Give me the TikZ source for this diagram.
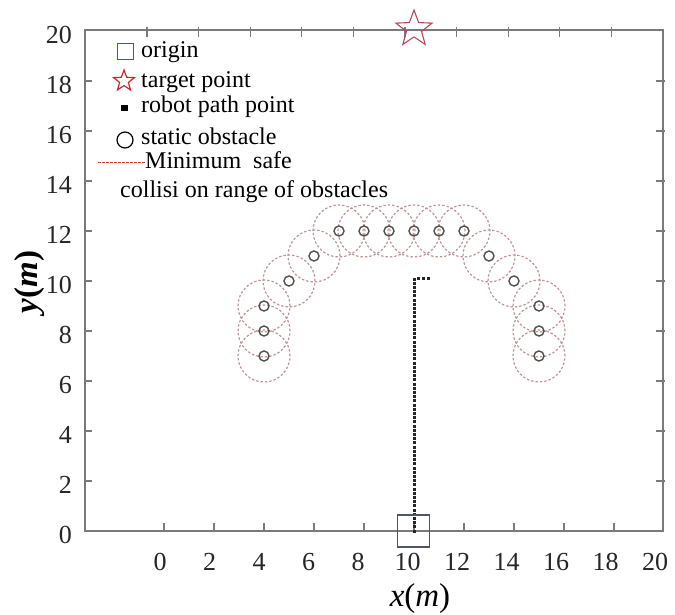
\documentclass[tikz,border=0pt]{standalone}
\usepackage{fontspec}
\setmainfont{Liberation Serif}
\usetikzlibrary{shapes.geometric}
\definecolor{framegray}{HTML}{7A7A7A}
\definecolor{safecol}{HTML}{BE9494}
\definecolor{obscol}{HTML}{505050}
\definecolor{starred}{HTML}{B8465A}
\definecolor{legred}{HTML}{C8282E}
\definecolor{legblue}{HTML}{3C5A9A}
\definecolor{origcol}{HTML}{505470}
\definecolor{legdash}{HTML}{D03A3A}
\begin{document}
\begin{tikzpicture}[x=1pt,y=-1pt,
  ticklab/.style={font=\fontsize{26}{26}\selectfont, text=black!85, inner sep=0},
  legtext/.style={font=\fontsize{24}{24}\selectfont, anchor=base west, inner sep=0},
  axlab/.style={font=\fontsize{33}{33}\selectfont, inner sep=0},
  tickline/.style={framegray, line width=1.2pt},
  safe/.style={safecol, line width=1.2pt, dash pattern=on 2.4pt off 2pt},
  obs/.style={obscol, line width=1.4pt},
  pathdot/.style={fill=black!85, draw=none},
  starmark/.style={star, star points=5, star point ratio=2.4, inner sep=0},
]
\useasboundingbox (0,0) rectangle (675,615);
\fill[white] (0,0) rectangle (675,615);
% frame
\draw[framegray, line width=1.5pt] (85,30) rectangle (663,531);
% left and right ticks
\foreach \k in {1,...,9} {
  \draw[tickline] (85,531-50*\k) -- ++(7,0);
  \draw[tickline] (665,531-50*\k) -- ++(-9,0);
}
% bottom ticks
\foreach \k in {0,...,9} \draw[tickline] (164+50*\k,531) -- ++(0,-8);
% top ticks
\foreach \k in {0,...,9} \draw[tickline] (147+51.6*\k,27) -- ++(0,10);
% tick labels
\foreach \v [count=\k from 0] in {0,2,...,20}
  \node[ticklab] (xl\v) at (160+49.5*\k,562) {\v};
\foreach \v [count=\k from 0] in {0,2,...,20}
  \node[ticklab, anchor=east] (yl\v) at (72,535-50*\k) {\v};
% axis labels
\node[axlab] (xlab) at (420,599) {\textit{x}(\textit{m})};
\node[axlab, rotate=90] (ylab) at (30,282) {\bfseries\textit{y}(\textit{m})};

% data
\begin{scope}[shift={(164,531)}, x=25pt, y=25pt]
  \foreach \p in {(4,7),(4,8),(4,9),(5,10),(6,11),(7,12),(8,12),(9,12),(10,12),(11,12),(12,12),(13,11),(14,10),(15,9),(15,8),(15,7)}
    \draw[safe] \p circle[radius=1.04];
  \foreach \p in {(4,7),(4,8),(4,9),(5,10),(6,11),(7,12),(8,12),(9,12),(10,12),(11,12),(12,12),(13,11),(14,10),(15,9),(15,8),(15,7)}
    \draw[obs] \p circle[radius=0.2];
  \foreach \i in {0,...,60}
    \fill[pathdot] (10,\i*0.168) ++(-1.5pt,-1.5pt) rectangle ++(3pt,3pt);
  \foreach \xx in {10.16,10.36,10.56}
    \fill[pathdot] (\xx,10.1) ++(-1.5pt,-1.5pt) rectangle ++(3pt,3pt);
  \node[draw=origcol, line width=1.3pt, minimum size=32pt, inner sep=0] (orig) at (9.98,0) {};
  \node[starmark, draw=starred, line width=1.1pt, minimum size=38pt] (target) at (10,20.08) {};
\end{scope}

% legend
\node[draw=legblue, line width=1pt, minimum size=16pt, inner sep=0] (legorig) at (125,52) {};
\node[legtext] (torig) at (141,58) {origin};
\node[starmark, draw=legred, line width=1.2pt, minimum size=22pt] (legstar) at (124,81) {};
\node[legtext] (ttarget) at (141,88) {target point};
\node[fill=black, minimum width=7pt, minimum height=6pt, inner sep=0] (legpath) at (124,108) {};
\node[legtext] (tpath) at (141,113) {robot path point};
\node[circle, draw=black, line width=1.2pt, minimum size=16pt, inner sep=0] (legobs) at (125,140) {};
\node[legtext] (tobs) at (141,145) {static obstacle};
\coordinate (dashA) at (98,163);
\coordinate (dashB) at (145,163);
\draw[legdash, line width=1pt, dash pattern=on 2.5pt off 1.5pt] (dashA) -- (dashB);
\node[legtext] (tsafe) at (145,168) {Minimum\ \ safe};
\node[legtext] (tcoll) at (120,197) {collisi on range of obstacles};
\end{tikzpicture}
\end{document}
